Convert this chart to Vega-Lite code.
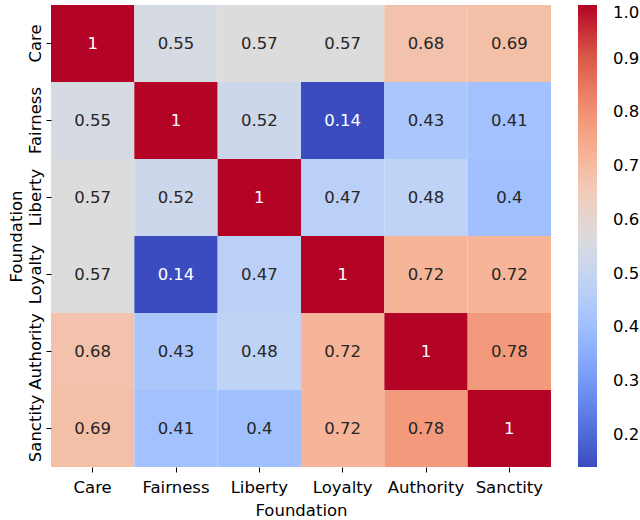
{
  "$schema": "https://vega.github.io/schema/vega-lite/v6.json",
  "width": 500,
  "height": 462,
  "autosize": {"type": "none"},
  "padding": {"left": 51, "top": 5, "right": 89, "bottom": 53},
  "config": {
    "font": "DejaVu Sans",
    "view": {"stroke": null},
    "axis": {"labelFontSize": 16.5, "titleFontSize": 16.5, "labelColor": "#000", "titleColor": "#000", "titleFontWeight": "normal", "domain": false, "tickColor": "#000", "tickSize": 5, "grid": false}
  },
  "data": {
    "values": [
      {"row": "Care", "col": "Care", "v": 1},
      {"row": "Care", "col": "Fairness", "v": 0.55},
      {"row": "Care", "col": "Liberty", "v": 0.57},
      {"row": "Care", "col": "Loyalty", "v": 0.57},
      {"row": "Care", "col": "Authority", "v": 0.68},
      {"row": "Care", "col": "Sanctity", "v": 0.69},
      {"row": "Fairness", "col": "Care", "v": 0.55},
      {"row": "Fairness", "col": "Fairness", "v": 1},
      {"row": "Fairness", "col": "Liberty", "v": 0.52},
      {"row": "Fairness", "col": "Loyalty", "v": 0.14},
      {"row": "Fairness", "col": "Authority", "v": 0.43},
      {"row": "Fairness", "col": "Sanctity", "v": 0.41},
      {"row": "Liberty", "col": "Care", "v": 0.57},
      {"row": "Liberty", "col": "Fairness", "v": 0.52},
      {"row": "Liberty", "col": "Liberty", "v": 1},
      {"row": "Liberty", "col": "Loyalty", "v": 0.47},
      {"row": "Liberty", "col": "Authority", "v": 0.48},
      {"row": "Liberty", "col": "Sanctity", "v": 0.4},
      {"row": "Loyalty", "col": "Care", "v": 0.57},
      {"row": "Loyalty", "col": "Fairness", "v": 0.14},
      {"row": "Loyalty", "col": "Liberty", "v": 0.47},
      {"row": "Loyalty", "col": "Loyalty", "v": 1},
      {"row": "Loyalty", "col": "Authority", "v": 0.72},
      {"row": "Loyalty", "col": "Sanctity", "v": 0.72},
      {"row": "Authority", "col": "Care", "v": 0.68},
      {"row": "Authority", "col": "Fairness", "v": 0.43},
      {"row": "Authority", "col": "Liberty", "v": 0.48},
      {"row": "Authority", "col": "Loyalty", "v": 0.72},
      {"row": "Authority", "col": "Authority", "v": 1},
      {"row": "Authority", "col": "Sanctity", "v": 0.78},
      {"row": "Sanctity", "col": "Care", "v": 0.69},
      {"row": "Sanctity", "col": "Fairness", "v": 0.41},
      {"row": "Sanctity", "col": "Liberty", "v": 0.4},
      {"row": "Sanctity", "col": "Loyalty", "v": 0.72},
      {"row": "Sanctity", "col": "Authority", "v": 0.78},
      {"row": "Sanctity", "col": "Sanctity", "v": 1}
    ]
  },
  "encoding": {
    "x": {"field": "col", "type": "nominal", "sort": ["Care", "Fairness", "Liberty", "Loyalty", "Authority", "Sanctity"], "title": "Foundation", "axis": {"labelAngle": 0, "labelPadding": 7, "titlePadding": 7}},
    "y": {"field": "row", "type": "nominal", "sort": ["Care", "Fairness", "Liberty", "Loyalty", "Authority", "Sanctity"], "title": "Foundation", "axis": {"labelAngle": -90, "labelAlign": "center", "labelBaseline": "bottom", "labelPadding": 3, "titlePadding": 3}}
  },
  "layer": [
    {
      "mark": {"type": "rect"},
      "encoding": {
        "color": {
          "field": "v", "type": "quantitative",
          "scale": {
            "domain": [0.14, 0.226, 0.312, 0.398, 0.484, 0.57, 0.656, 0.742, 0.828, 0.914, 1.0],
            "range": ["#3b4cc0", "#5977e3", "#7b9ff9", "#9ebeff", "#c0d4f5", "#dddcdc", "#f2cbb7", "#f7ac8e", "#ee8468", "#d65244", "#b40426"],
            "interpolate": "rgb"
          },
          "legend": {"title": null, "gradientLength": 462, "gradientThickness": 19, "values": [0.2, 0.3, 0.4, 0.5, 0.6, 0.7, 0.8, 0.9, 1.0], "format": ".1f", "labelFontSize": 16.5, "labelColor": "#000", "offset": 27, "padding": 0, "gradientStrokeWidth": 0, "labelOffset": 16}
        }
      }
    },
    {
      "mark": {"type": "text", "fontSize": 16.5},
      "encoding": {
        "text": {"field": "v", "type": "quantitative", "format": ".2~f"},
        "color": {
          "condition": {"test": "datum.v >= 0.9 || datum.v <= 0.2", "value": "#ffffff"},
          "value": "#262626"
        }
      }
    }
  ]
}
